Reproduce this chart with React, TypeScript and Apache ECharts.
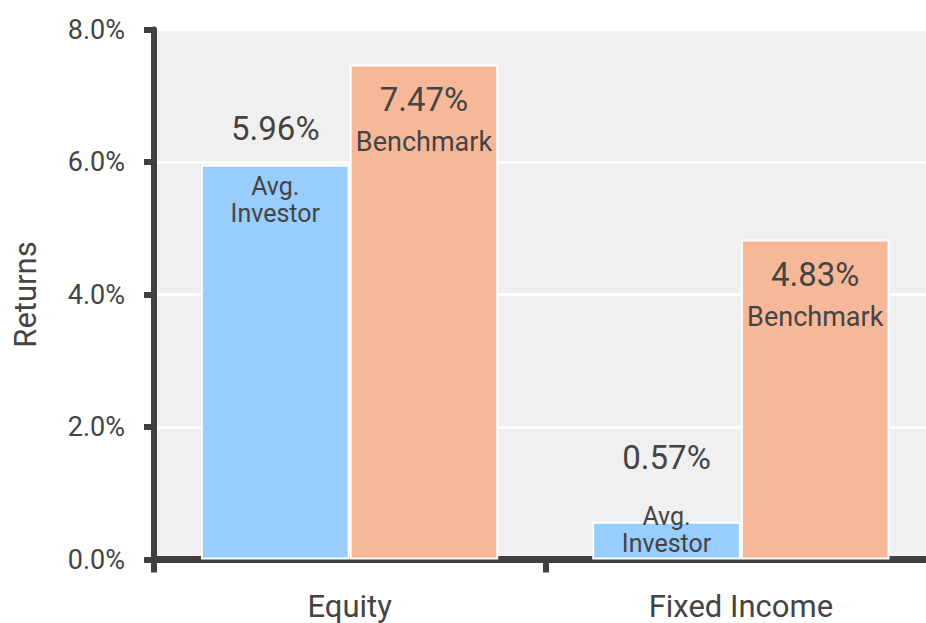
import React, { useEffect, useRef } from "react";
import * as echarts from "echarts";

const categories = ["Equity", "Fixed Income"];
const avgInvestor = [5.96, 0.57];
const benchmark = [7.47, 4.83];
const yAxisTitle = "Returns";
const avgWords = ["Avg.", "Investor"];
const benchLabel = "Benchmark";

const FONT = 'Roboto, "Liberation Sans", sans-serif';
const TEXT = "#444444";

export default function App() {
  const ref = useRef<HTMLDivElement>(null);
  useEffect(() => {
    if (!ref.current) return;
    const chart = echarts.init(ref.current, undefined, { renderer: "svg" });
    const blueOffsets = [-80, -110];
    const blueLH = [88, 91];
    chart.setOption({
      animation: false,
      textStyle: { fontFamily: FONT, color: TEXT },
      grid: {
        left: 154,
        top: 29.5,
        bottom: 63.5,
        right: -10.5,
        containLabel: false,
        outerBoundsMode: "none",
        show: true,
        backgroundColor: "#f0f0f0",
        borderWidth: 0,
      },
      xAxis: {
        type: "category",
        data: categories,
        axisLine: { lineStyle: { color: "#404040", width: 7 } },
        axisTick: { show: true, length: 13, lineStyle: { color: "#404040", width: 6 } },
        axisLabel: { fontSize: 31, color: TEXT, fontFamily: FONT, margin: 31 },
      },
      yAxis: {
        type: "value",
        min: 0,
        max: 8,
        interval: 2,
        name: yAxisTitle,
        nameLocation: "middle",
        nameRotate: 90,
        nameGap: 113,
        nameTextStyle: { fontSize: 31, color: TEXT, fontFamily: FONT },
        axisLine: { show: true, lineStyle: { color: "#404040", width: 6 } },
        axisTick: { show: true, length: 10, lineStyle: { color: "#404040", width: 6 } },
        axisLabel: {
          fontSize: 27,
          color: TEXT,
          fontFamily: FONT,
          margin: 29,
          formatter: (v: number) => v.toFixed(1) + "%",
        },
        splitLine: { show: true, lineStyle: { color: "#ffffff", width: 3 } },
      },
      series: [
        {
          type: "bar",
          name: "Avg. Investor",
          barGap: "0%",
          barCategoryGap: "24%",
          itemStyle: { color: "#99ccff", borderColor: "#ffffff", borderWidth: 2 },
          data: avgInvestor.map((v, i) => ({
            value: v,
            label: {
              show: true,
              position: "insideTop",
              distance: 0,
              offset: [0, blueOffsets[i]],
              formatter: () => `{v|${v.toFixed(2)}%}\n{n|${avgWords[0]}}\n{n|${avgWords[1]}}`,
              rich: {
                v: { fontSize: 33, lineHeight: blueLH[i], color: TEXT, fontFamily: FONT, align: "center" },
                n: { fontSize: 25, lineHeight: 27, color: TEXT, fontFamily: FONT, align: "center" },
              },
            },
          })),
        },
        {
          type: "bar",
          name: "Benchmark",
          itemStyle: { color: "#f7b899", borderColor: "#ffffff", borderWidth: 2 },
          label: {
            show: true,
            position: "insideTop",
            distance: 14,
            formatter: (p: any) => `{v|${Number(p.value).toFixed(2)}%}\n{b|${benchLabel}}`,
            rich: {
              v: { fontSize: 33, lineHeight: 42, color: TEXT, fontFamily: FONT, align: "center" },
              b: { fontSize: 27, lineHeight: 42, color: TEXT, fontFamily: FONT, align: "center" },
            },
          },
          data: benchmark,
        },
      ],
    });
    return () => chart.dispose();
  }, []);
  return (
    <div
      ref={ref}
      style={{ position: "fixed", left: 0, top: 0, width: 926, height: 623, background: "#ffffff" }}
    />
  );
}
